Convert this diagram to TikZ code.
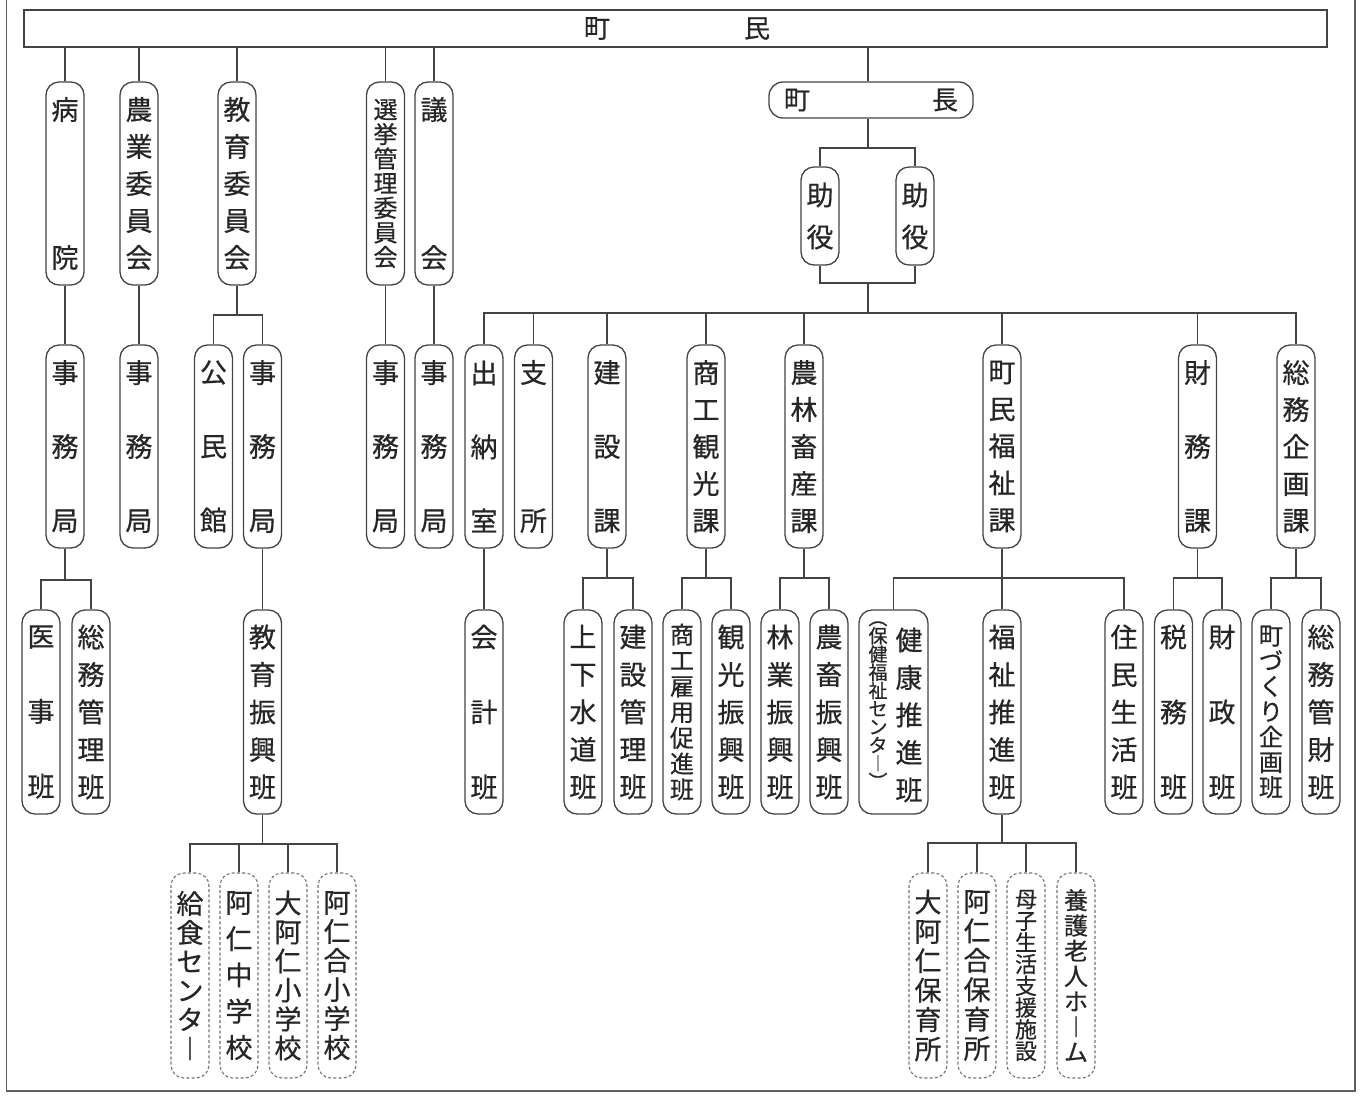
\documentclass[tikz,border=0pt]{standalone}
\usepackage{fontspec}
\usepackage{graphicx}
\setmainfont{Noto Sans CJK JP}[FakeBold=0.6]
\definecolor{lnc}{HTML}{434343}
\definecolor{txc}{HTML}{262626}
\newcommand\V[2]{\parbox[c]{1.3em}{\centering\baselineskip=#1pt\lineskiplimit=-100pt\lineskip=0pt #2\par}}
\begin{document}
\begin{tikzpicture}[x=1pt,y=-1pt,
  bx/.style={draw=lnc,line width=1.3pt,rounded corners=13pt,minimum width=38pt,inner sep=0pt,text=txc,font=\fontsize{27}{30}\selectfont},
  ba/.style={bx,minimum height=203pt},
  bb/.style={bx,minimum height=203pt},
  bc/.style={bx,minimum height=204pt},
  bd/.style={bx,minimum height=205pt,draw=lnc!75,dash pattern=on 3pt off 2.2pt,line width=1.1pt},
  sm/.style={font=\fontsize{24}{28}\selectfont},
  cn/.style={draw=lnc,line width=1.3pt}]
\useasboundingbox (0,0) rectangle (1361,1096);
% frame
\draw[draw=lnc!85,line width=1.8pt] (6.5,0) -- (6.5,1091) -- (1355,1091) -- (1355,0);
% top bar
\node[draw=lnc,line width=1.6pt,minimum width=1303pt,minimum height=37pt,inner sep=0pt,text=txc,font=\fontsize{26}{30}\selectfont] (chomin) at (675.5,28.5) {\hspace*{3pt}\makebox[186pt][s]{町\hfill 民}};
% mayor
\node[bx,font=\fontsize{26}{30}\selectfont,minimum width=204pt,minimum height=36pt,rounded corners=14pt] (chocho) at (871,100) {\makebox[174pt][s]{町\hfill 長}};
% deputy mayors
\node[bx,minimum height=98pt] (jo1) at (820,216) {\V{42}{助\\役}};
\node[bx,minimum height=98pt] (jo2) at (915,216) {\V{42}{助\\役}};
% top level
\node[ba] (byoin) at (65,183.5) {\V{148}{病\\院}};
\node[ba] (nogyo) at (139,183.5) {\V{37}{農\\業\\委\\員\\会}};
\node[ba] (kyoiku) at (237,183.5) {\V{37}{教\\育\\委\\員\\会}};
\node[ba,sm] (senkyo) at (385.5,183.5) {\V{24.6}{選\\挙\\管\\理\\委\\員\\会}};
\node[ba] (gikai) at (434,183.5) {\V{148}{議\\会}};
% level 2
\node[bb] (j1) at (65,446.5) {\V{74}{事\\務\\局}};
\node[bb] (j2) at (139,446.5) {\V{74}{事\\務\\局}};
\node[bb] (komin) at (213.5,446.5) {\V{74}{公\\民\\館}};
\node[bb] (j3) at (262.5,446.5) {\V{74}{事\\務\\局}};
\node[bb] (j4) at (385.5,446.5) {\V{74}{事\\務\\局}};
\node[bb] (j5) at (434,446.5) {\V{74}{事\\務\\局}};
\node[bb] (shuno) at (484,446.5) {\V{74}{出\\納\\室}};
\node[bb] (shisho) at (533.5,446.5) {\V{148}{支\\所}};
\node[bb] (kensetsu) at (607,446.5) {\V{74}{建\\設\\課}};
\node[bb] (shoko) at (706,446.5) {\V{37}{商\\工\\観\\光\\課}};
\node[bb] (norin) at (804,446.5) {\V{37}{農\\林\\畜\\産\\課}};
\node[bb] (fukushi) at (1002,446.5) {\V{37}{町\\民\\福\\祉\\課}};
\node[bb] (zaimu) at (1197.5,446.5) {\V{74}{財\\務\\課}};
\node[bb] (somu) at (1296,446.5) {\V{37}{総\\務\\企\\画\\課}};
% level 3
\node[bc] (iji) at (41,712) {\V{75}{医\\事\\班}};
\node[bc] (somukanri) at (91,712) {\V{37.5}{総\\務\\管\\理\\班}};
\node[bc] (kyoshin) at (262.5,712) {\V{37.5}{教\\育\\振\\興\\班}};
\node[bc] (kaikei) at (484,712) {\V{75}{会\\計\\班}};
\node[bc] (josui) at (583,712) {\V{37.5}{上\\下\\水\\道\\班}};
\node[bc] (kenkan) at (633,712) {\V{37.5}{建\\設\\管\\理\\班}};
\node[bc,sm] (koyo) at (682,712) {\V{25.8}{商\\工\\雇\\用\\促\\進\\班}};
\node[bc] (kanko) at (731,712) {\V{37.5}{観\\光\\振\\興\\班}};
\node[bc] (ringyo) at (780,712) {\V{37.5}{林\\業\\振\\興\\班}};
\node[bc] (chikusan) at (829,712) {\V{37.5}{農\\畜\\振\\興\\班}};
\node[bc,minimum width=69pt] (kenko) at (893.5,712) {};
\node[inner sep=0pt,text=txc,font=\fontsize{27}{30}\selectfont] (kenkoA) at (909,715) {\V{37.5}{健\\康\\推\\進\\班}};
\node[inner sep=0pt,text=txc,font=\fontsize{19}{21}\selectfont] (kenkoB) at (878,705) {\V{18.2}{︵\\保\\健\\福\\祉\\セ\\ン\\タ\\︱\\︶}};
\node[bc] (fsuishin) at (1002,712) {\V{37.5}{福\\祉\\推\\進\\班}};
\node[bc] (jumin) at (1124,712) {\V{37.5}{住\\民\\生\\活\\班}};
\node[bc] (zeimu) at (1173.5,712) {\V{75}{税\\務\\班}};
\node[bc] (zaisei) at (1222,712) {\V{75}{財\\政\\班}};
\node[bc,sm] (machi) at (1271,712) {\V{25.3}{町\\づ\\く\\り\\企\\画\\班}};
\node[bc] (kanzai) at (1321,712) {\V{37.5}{総\\務\\管\\財\\班}};
% dashed level
\node[bd] (kyushoku) at (190,975.5) {\V{29}{給\\食\\セ\\ン\\タ\\︱}};
\node[bd] (anichu) at (239,975.5) {\V{36.25}{阿\\仁\\中\\学\\校}};
\node[bd] (oanisho) at (288,975.5) {\V{29}{大\\阿\\仁\\小\\学\\校}};
\node[bd] (aniaisho) at (337,975.5) {\V{29}{阿\\仁\\合\\小\\学\\校}};
\node[bd] (oaniho) at (928,975.5) {\V{29.4}{大\\阿\\仁\\保\\育\\所}};
\node[bd] (aniaiho) at (977,975.5) {\V{29.4}{阿\\仁\\合\\保\\育\\所}};
\node[bd,font=\fontsize{22}{26}\selectfont] (boshi) at (1026,975.5) {\V{21.7}{母\\子\\生\\活\\支\\援\\施\\設}};
\node[bd,sm] (yogo) at (1076,975.5) {\V{25.3}{養\\護\\老\\人\\ホ\\︱\\ム}};
% helper coordinates
\coordinate (m0) at (868,0);
\coordinate (m1) at (868,148);
\coordinate (m2) at (868,283);
\coordinate (d0) at (868,313);
\coordinate (ck) at (237,315);
\coordinate (c1) at (65,580);
\coordinate (c2) at (607,578);
\coordinate (c3) at (706,578);
\coordinate (c4) at (804,578);
\coordinate (c5) at (1002,578);
\coordinate (c6) at (1197.5,578);
\coordinate (c7) at (1296,578);
\coordinate (e1) at (262.5,844);
\coordinate (e2) at (1002,843);
% connectors top
\foreach \n in {byoin,nogyo,kyoiku,senkyo,gikai}
  \draw[cn] (\n.north) -- (\n.north |- chomin.south);
\draw[cn] (chomin.south -| m0) -- (chocho.north -| m0);
\draw[cn] (chocho.south -| m0) -- (m1);
\draw[cn] (jo1.north) |- (m1) -| (jo2.north);
\draw[cn] (jo1.south) |- (m2) -| (jo2.south);
\draw[cn] (m2) -- (d0);
\draw[cn] (shuno.north) |- (d0) -| (somu.north);
\foreach \n in {shisho,kensetsu,shoko,norin,fukushi,zaimu}
  \draw[cn] (\n.north) -- (\n.north |- d0);
% top level to level 2
\draw[cn] (byoin.south) -- (j1.north);
\draw[cn] (nogyo.south) -- (j2.north);
\draw[cn] (senkyo.south) -- (j4.north);
\draw[cn] (gikai.south) -- (j5.north);
\draw[cn] (kyoiku.south) -- (ck);
\draw[cn] (komin.north) |- (ck) -| (j3.north);
% level 2 to level 3
\draw[cn] (j1.south) -- (c1);
\draw[cn] (iji.north) |- (c1) -| (somukanri.north);
\draw[cn] (j3.south) -- (kyoshin.north);
\draw[cn] (shuno.south) -- (kaikei.north);
\draw[cn] (kensetsu.south) -- (c2);
\draw[cn] (josui.north) |- (c2) -| (kenkan.north);
\draw[cn] (shoko.south) -- (c3);
\draw[cn] (koyo.north) |- (c3) -| (kanko.north);
\draw[cn] (norin.south) -- (c4);
\draw[cn] (ringyo.north) |- (c4) -| (chikusan.north);
\draw[cn] (fukushi.south) -- (fsuishin.north);
\draw[cn] (kenko.north) |- (c5) -| (jumin.north);
\draw[cn] (zaimu.south) -- (c6);
\draw[cn] (zeimu.north) |- (c6) -| (zaisei.north);
\draw[cn] (somu.south) -- (c7);
\draw[cn] (machi.north) |- (c7) -| (kanzai.north);
% level 3 to dashed
\draw[cn] (kyoshin.south) -- (e1);
\draw[cn] (kyushoku.north) |- (e1) -| (aniaisho.north);
\draw[cn] (anichu.north) -- (anichu.north |- e1);
\draw[cn] (oanisho.north) -- (oanisho.north |- e1);
\draw[cn] (fsuishin.south) -- (e2);
\draw[cn] (oaniho.north) |- (e2) -| (yogo.north);
\draw[cn] (aniaiho.north) -- (aniaiho.north |- e2);
\draw[cn] (boshi.north) -- (boshi.north |- e2);
\end{tikzpicture}
\end{document}
